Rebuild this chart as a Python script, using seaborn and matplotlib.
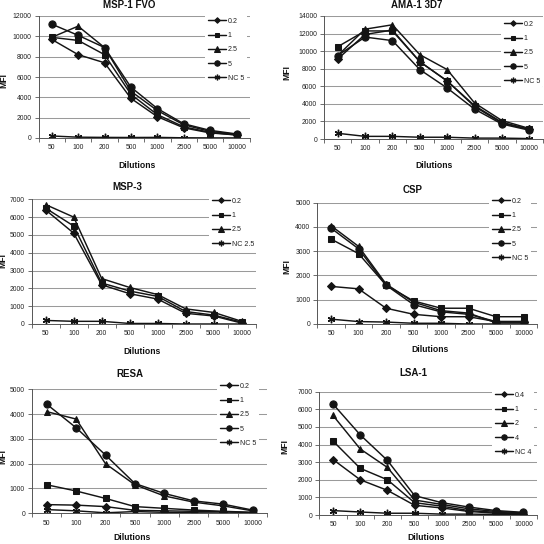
import numpy as np
import pandas as pd
import seaborn as sns
import matplotlib.pyplot as plt
from matplotlib.ticker import FixedLocator, MultipleLocator

W, H = 544, 544

dilutions = ["50", "100", "200", "500", "1000", "2500", "5000", "10000"]

# MSP-1 FVO
msp1_labels = ["0.2", "1", "2.5", "5", "NC 5"]
msp1_02 = [9700, 8200, 7400, 3900, 2100, 1000, 500, 300]
msp1_1 = [9900, 9600, 8200, 4300, 2300, 1100, 550, 300]
msp1_25 = [9900, 11000, 8900, 4600, 2700, 1300, 650, 350]
msp1_5 = [11200, 10100, 8900, 5000, 2900, 1400, 750, 400]
msp1_nc = [200, 80, 60, 50, 60, 20, 10, 10]

# AMA-1 3D7
ama1_labels = ["0.2", "1", "2.5", "5", "NC 5"]
ama1_02 = [9100, 11900, 12400, 8800, 6600, 3700, 1800, 1100]
ama1_1 = [10500, 12300, 12300, 8800, 6600, 3800, 1900, 1100]
ama1_25 = [9500, 12500, 13000, 9600, 7900, 4100, 2100, 1200]
ama1_5 = [9500, 11600, 11200, 7900, 5800, 3400, 1700, 1000]
ama1_nc = [650, 300, 300, 200, 200, 100, 100, 50]

# MSP-3
msp3_labels = ["0.2", "1", "2.5", "NC 2.5"]
msp3_02 = [6400, 5100, 2200, 1700, 1400, 600, 450, 50]
msp3_1 = [6500, 5500, 2300, 1850, 1550, 700, 500, 100]
msp3_25 = [6700, 6000, 2550, 2050, 1650, 850, 650, 150]
msp3_nc = [200, 150, 150, 30, 30, 0, 0, 0]

# CSP
csp_labels = ["0.2", "1", "2.5", "5", "NC 5"]
csp_02 = [1550, 1450, 650, 400, 300, 300, 100, 100]
csp_1 = [3500, 2900, 1600, 950, 650, 650, 300, 300]
csp_25 = [4050, 3200, 1650, 900, 550, 450, 50, 50]
csp_5 = [3950, 3100, 1600, 800, 500, 400, 100, 100]
csp_nc = [200, 100, 80, 30, 30, 0, 0, 0]

# RESA
resa_labels = ["0.2", "1", "2.5", "5", "NC 5"]
resa_02 = [350, 330, 270, 120, 100, 80, 60, 30]
resa_1 = [1150, 900, 600, 270, 200, 130, 80, 40]
resa_25 = [4100, 3800, 2000, 1150, 700, 450, 300, 100]
resa_5 = [4400, 3450, 2350, 1200, 800, 500, 370, 130]
resa_nc = [150, 100, 20, 70, 40, 20, 10, 10]

# LSA-1
lsa1_labels = ["0.4", "1", "2", "4", "NC 4"]
lsa1_04 = [3150, 2000, 1400, 550, 400, 200, 100, 50]
lsa1_1 = [4200, 2650, 2000, 700, 500, 250, 150, 80]
lsa1_2 = [5650, 3750, 2700, 850, 600, 350, 200, 120]
lsa1_4 = [6300, 4550, 3100, 1100, 700, 450, 250, 150]
lsa1_nc = [250, 170, 100, 100, 50, 50, 30, 30]

panels = [
    ("MSP-1 FVO", msp1_labels, [msp1_02, msp1_1, msp1_25, msp1_5, msp1_nc], 12000, 2000),
    ("AMA-1 3D7", ama1_labels, [ama1_02, ama1_1, ama1_25, ama1_5, ama1_nc], 14000, 2000),
    ("MSP-3", msp3_labels, [msp3_02, msp3_1, msp3_25, msp3_nc], 7000, 1000),
    ("CSP", csp_labels, [csp_02, csp_1, csp_25, csp_5, csp_nc], 5000, 1000),
    ("RESA", resa_labels, [resa_02, resa_1, resa_25, resa_5, resa_nc], 5000, 1000),
    ("LSA-1", lsa1_labels, [lsa1_04, lsa1_1, lsa1_2, lsa1_4, lsa1_nc], 7000, 1000),
]

# layout in pixels: axes box, title pos, xlabel pos, ylabel pos, legend anchor
layout = [
    dict(box=(38.5, 249.7, 16, 138), title=(129, 5), xl=(137, 166), yl=(4, 81), leg=(205, 15)),
    dict(box=(324, 543, 16, 139), title=(417, 5), xl=(434, 166), yl=(287, 72), leg=(501, 18)),
    dict(box=(31.7, 255.7, 199.3, 324), title=(127, 187), xl=(142, 351), yl=(3, 260), leg=(209, 195)),
    dict(box=(317.3, 537.3, 202.7, 324), title=(413, 190), xl=(430, 350), yl=(287, 267), leg=(489, 195)),
    dict(box=(32, 267.2, 389.3, 513.3), title=(129.5, 374), xl=(132, 538), yl=(3, 457), leg=(217, 380)),
    dict(box=(319.4, 537, 391.7, 515), title=(413.7, 373), xl=(426, 538), yl=(285, 446), leg=(492, 389)),
]

marker_styles = {
    "D": dict(marker="D", markersize=3.8),
    "s": dict(marker="s", markersize=4.2),
    "^": dict(marker="^", markersize=5.0),
    "o": dict(marker="o", markersize=5.2),
    "*": dict(marker=(6, 2, 0), markersize=5.4, markeredgewidth=1.0),
}

sns.set_theme(style="white")
plt.rcParams["font.family"] = ["Liberation Sans", "DejaVu Sans"]

fig = plt.figure(figsize=(W / 100, H / 100), dpi=100)
fig.patch.set_facecolor("white")

line_color = "#141414"
x_pos = np.arange(len(dilutions))

for (title, labels, series, ymax, ystep), lay in zip(panels, layout):
    x0, x1, y0, y1 = lay["box"]
    ax = fig.add_axes([x0 / W, 1 - y1 / H, (x1 - x0) / W, (y1 - y0) / H])

    n = len(series)
    keys = ["D", "s", "^", "o"][: n - 1] + ["*"]
    for lab, vals, key in zip(labels, series, keys):
        df = pd.DataFrame({"pos": x_pos, "MFI": vals})
        st = marker_styles[key]
        sns.lineplot(data=df, x="pos", y="MFI", ax=ax, color=line_color,
                     linewidth=1.05, label=lab, markeredgecolor=line_color,
                     markerfacecolor=line_color, **st)

    ax.set_xlim(-0.5, len(dilutions) - 0.5)
    ax.set_ylim(0, ymax)
    ax.yaxis.set_major_locator(MultipleLocator(ystep))
    ax.set_xticks(x_pos)
    ax.set_xticklabels(dilutions)
    ax.xaxis.set_minor_locator(FixedLocator(np.arange(-0.5, len(dilutions), 1.0)))
    ax.tick_params(axis="x", which="major", length=0, labelsize=4.9, pad=4.5, colors="#222222")
    ax.tick_params(axis="x", which="minor", length=3, width=0.6, color="#555555", direction="out", bottom=True)
    ax.tick_params(axis="y", which="major", length=3, width=0.6, color="#555555", direction="out",
                   left=True, labelsize=4.9, pad=2, labelcolor="#222222")
    ax.grid(axis="y", color="#9a9a9a", linewidth=0.75)
    ax.grid(axis="x", visible=False)
    ax.set_axisbelow(True)
    for side in ["top", "right"]:
        ax.spines[side].set_visible(False)
    for side in ["left", "bottom"]:
        ax.spines[side].set_color("#555555")
        ax.spines[side].set_linewidth(0.7)
    ax.set_xlabel("")
    ax.set_ylabel("")
    ax.set_facecolor("none")

    lx, ly = lay["leg"]
    leg = ax.legend(loc="upper left", bbox_to_anchor=(lx / W, 1 - ly / H),
                    bbox_transform=fig.transFigure, fontsize=5.1, frameon=True,
                    handlelength=2.5, handletextpad=0.3, labelspacing=1.02,
                    borderpad=0.4, borderaxespad=0, markerscale=0.75)
    leg.get_frame().set_facecolor("white")
    leg.get_frame().set_edgecolor("none")
    leg.get_frame().set_alpha(1)
    for t in leg.get_texts():
        t.set_color("#222222")

    tx, ty = lay["title"]
    fig.text(tx / W, 1 - ty / H, title, ha="center", va="center",
             fontsize=7.0, fontweight="bold", color="#111111")
    xx, xy = lay["xl"]
    fig.text(xx / W, 1 - xy / H, "Dilutions", ha="center", va="center",
             fontsize=6.2, fontweight="bold", color="#111111")
    yx, yy = lay["yl"]
    fig.text(yx / W, 1 - yy / H, "MFI", ha="center", va="center", rotation=90,
             fontsize=6.2, fontweight="bold", color="#111111")

fig.savefig("out.png", dpi=100)
